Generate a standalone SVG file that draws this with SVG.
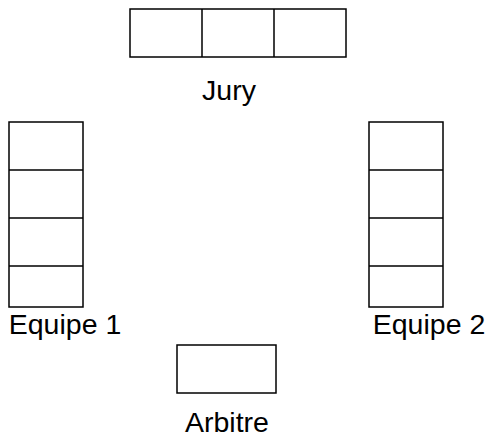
<svg xmlns="http://www.w3.org/2000/svg" width="488" height="439" viewBox="0 0 488 439">
<style>
.b{fill:#fff;stroke:#000;stroke-width:1.5}
.l{stroke:#000;stroke-width:1.5;fill:none}
.t{font-family:"Liberation Sans",Arial,sans-serif;font-size:28.5px;fill:#000;text-anchor:middle}
</style>
<rect width="488" height="439" fill="#fff"/>
<g id="jury">
<rect class="b" x="130" y="9" width="216" height="48"/>
<path class="l" d="M202 9V57M274 9V57"/>
<text class="t" x="229" y="100">Jury</text>
</g>
<g id="equipe1">
<rect class="b" x="9" y="122" width="74" height="185"/>
<path class="l" d="M9 170H83M9 218H83M9 266H83"/>
<text class="t" x="65" y="334">Equipe 1</text>
</g>
<g id="equipe2">
<rect class="b" x="369" y="122" width="74" height="185"/>
<path class="l" d="M369 170H443M369 218H443M369 266H443"/>
<text class="t" x="429" y="334">Equipe 2</text>
</g>
<g id="arbitre">
<rect class="b" x="177" y="345" width="99" height="48"/>
<text class="t" x="227" y="432">Arbitre</text>
</g>
<g id="connectors"/>
</svg>
